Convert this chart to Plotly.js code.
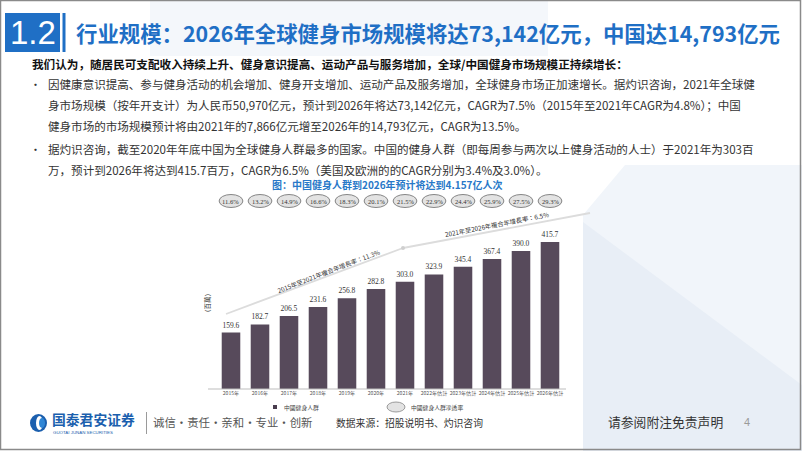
<!DOCTYPE html>
<html>
<head>
<meta charset="utf-8">
<script src="https://cdn.plot.ly/plotly-3.0.1.min.js"></script>
<style>html,body{margin:0;padding:0;background:#fff;}#chart{width:802px;height:451px;}</style>
</head>
<body>
<div id="chart"></div>
<script>
// ---- data ----
const years = ["2015年","2016年","2017年","2018年","2019年","2020年","2021年","2022年估計","2023年估計","2024年估計","2025年估計","2026年估計"];
const population = [159.6, 182.7, 206.5, 231.6, 256.8, 282.8, 303.0, 323.9, 345.4, 367.4, 390.0, 415.7];
const penetration = ["11.6%","13.2%","14.9%","16.6%","18.3%","20.1%","21.5%","22.9%","24.4%","25.9%","27.5%","29.3%"];
const cagrLabels = ["2015年至2021年複合年增長率：11.3%", "2021年至2026年複合年增長率：6.5%"];
const legendNames = ["中國健身人群", "中國健身人群滲透率"];
const yUnit = "（百萬）";

// ---- page helpers (pixel -> paper) ----
const W = 802, H = 451;
const X = p => p / W;
const Y = p => 1 - p / H;

const CJK = '"Noto Sans CJK SC", "Noto Sans", sans-serif';
const CJKTC = '"Noto Sans CJK TC", "Noto Sans", sans-serif';
const SERIF = '"Liberation Serif", "DejaVu Serif", serif';
const BLUE = '#1f6fc5';

const shapes = [];
const ann = [];

// background tint
shapes.push({type:'path', xref:'paper', yref:'paper', layer:'below',
  path:`M ${X(583)} ${Y(215)} L ${X(625)} ${Y(165)} L ${X(802)} ${Y(165)} L ${X(802)} ${Y(451)} L ${X(583)} ${Y(451)} Z`,
  fillcolor:'#f1f5fa', line:{width:0}});
shapes.push({type:'path', xref:'paper', yref:'paper', layer:'below',
  path:`M ${X(583)} ${Y(222)} L ${X(802)} ${Y(385)} L ${X(802)} ${Y(451)} L ${X(583)} ${Y(451)} Z`,
  fillcolor:'#e8eef6', line:{width:0}});
shapes.push({type:'path', xref:'paper', yref:'paper', layer:'below',
  path:`M ${X(150)} ${Y(0)} L ${X(548)} ${Y(0)} L ${X(548)} ${Y(56)} L ${X(150)} ${Y(56)} Z`,
  fillcolor:'#f4f7fb', line:{width:0}});

// slide border
shapes.push({type:'rect', xref:'paper', yref:'paper', x0:X(0.5), x1:X(800.5), y0:Y(449.5), y1:Y(0.5),
  line:{color:'#8a8a8a', width:1.5}, fillcolor:'rgba(0,0,0,0)'});

// header
shapes.push({type:'rect', xref:'paper', yref:'paper', x0:X(5), x1:X(60), y0:Y(52), y1:Y(13), fillcolor:BLUE, line:{width:0}});
shapes.push({type:'rect', xref:'paper', yref:'paper', x0:X(62.5), x1:X(65.5), y0:Y(52), y1:Y(13), fillcolor:BLUE, line:{width:0}});
ann.push({xref:'paper', yref:'paper', x:X(32.5), y:Y(33), text:'1.2', showarrow:false, xanchor:'center', yanchor:'middle',
  font:{family:'"Liberation Sans", Arial, sans-serif', size:33, color:'#ffffff'}});
ann.push({xref:'paper', yref:'paper', x:X(74), y:Y(33), text:'<b>行业规模：2026年全球健身市场规模将达73,142亿元，中国达14,793亿元</b>', showarrow:false,
  xanchor:'left', yanchor:'middle', font:{family:CJK, size:21.4, color:BLUE}});

// body text
ann.push({xref:'paper', yref:'paper', x:X(30), y:Y(64), text:'<b>我们认为，随居民可支配收入持续上升、健身意识提高、运动产品与服务增加，全球/中国健身市场规模正持续增长：</b>', showarrow:false,
  xanchor:'left', yanchor:'middle', font:{family:CJK, size:11.6, color:'#111'}});
const bodyLines = [
  [84, '因健康意识提高、参与健身活动的机会增加、健身开支增加、运动产品及服务增加，全球健身市场正加速增长。据灼识咨询，2021年全球健', true],
  [105, '身市场规模（按年开支计）为人民币50,970亿元，预计到2026年将达73,142亿元，CAGR为7.5%（2015年至2021年CAGR为4.8%）；中国', false],
  [126, '健身市场的市场规模预计将由2021年的7,866亿元增至2026年的14,793亿元，CAGR为13.5%。', false],
  [149, '据灼识咨询，截至2020年年底中国为全球健身人群最多的国家。中国的健身人群（即每周参与两次以上健身活动的人士）于2021年为303百', true],
  [170, '万，预计到2026年将达到415.7百万，CAGR为6.5%（美国及欧洲的的CAGR分别为3.4%及3.0%）。', false]
];
bodyLines.forEach(([py, t, bullet]) => {
  ann.push({xref:'paper', yref:'paper', x:X(46), y:Y(py), text:t, showarrow:false, xanchor:'left', yanchor:'middle',
    font:{family:CJK, size:11.55, color:'#333'}});
  if (bullet) ann.push({xref:'paper', yref:'paper', x:X(35), y:Y(py), text:'•', showarrow:false, xanchor:'center', yanchor:'middle',
    font:{family:CJK, size:11, color:'#333'}});
});

// chart image white area
shapes.push({type:'rect', xref:'paper', yref:'paper', layer:'below', x0:X(197), x1:X(583), y0:Y(413), y1:Y(193), fillcolor:'#ffffff', line:{width:0}});

// chart title
ann.push({xref:'paper', yref:'paper', x:X(387), y:Y(185), text:'<b>图：中国健身人群到2026年预计将达到4.157亿人次</b>', showarrow:false,
  xanchor:'center', yanchor:'middle', font:{family:CJK, size:10, color:'#2878c8'}});

// penetration ellipses (per category)
years.forEach((yr, i) => {
  shapes.push({type:'circle', xref:'x', yref:'paper', x0:i-0.41, x1:i+0.41, y0:Y(207.5), y1:Y(194.5),
    fillcolor:'#e3e3e3', line:{color:'#6a6a6a', width:0.8}});
  ann.push({xref:'x', yref:'paper', x:yr, y:Y(201), text:penetration[i], showarrow:false, xanchor:'center', yanchor:'middle',
    font:{family:SERIF, size:6.5, color:'#333'}});
});

// CAGR lines
shapes.push({type:'line', xref:'paper', yref:'paper', x0:X(226), y0:Y(314), x1:X(403), y1:Y(248), line:{color:'#dcdcdc', width:1.8}});
shapes.push({type:'line', xref:'paper', yref:'paper', x0:X(403), y0:Y(248), x1:X(590), y1:Y(213), line:{color:'#dcdcdc', width:1.8}});
shapes.push({type:'circle', xref:'paper', yref:'paper', x0:X(401), x1:X(405), y0:Y(250), y1:Y(246), fillcolor:'#cfcfcf', line:{width:0}});
ann.push({xref:'paper', yref:'paper', x:X(328), y:Y(271), text:cagrLabels[0], showarrow:false, textangle:-21,
  xanchor:'center', yanchor:'middle', font:{family:CJKTC, size:6.3, color:'#333'}});
ann.push({xref:'paper', yref:'paper', x:X(497), y:Y(224), text:cagrLabels[1], showarrow:false, textangle:-11,
  xanchor:'center', yanchor:'middle', font:{family:CJKTC, size:6.3, color:'#333'}});

// y unit label
ann.push({xref:'paper', yref:'paper', x:X(207), y:Y(303), text:yUnit, showarrow:false, textangle:-90,
  xanchor:'center', yanchor:'middle', font:{family:CJKTC, size:6.5, color:'#333'}});

// baseline
shapes.push({type:'line', xref:'paper', yref:'paper', x0:X(208), x1:X(566), y0:Y(389), y1:Y(389), line:{color:'#bdbdbd', width:1}});

// legend
shapes.push({type:'rect', xref:'paper', yref:'paper', x0:X(273), x1:X(277), y0:Y(409), y1:Y(405), fillcolor:'#4a3d4e', line:{width:0}});
ann.push({xref:'paper', yref:'paper', x:X(282), y:Y(407), text:legendNames[0], showarrow:false, xanchor:'left', yanchor:'middle',
  font:{family:CJKTC, size:5.8, color:'#444'}});
shapes.push({type:'circle', xref:'paper', yref:'paper', x0:X(387), x1:X(405), y0:Y(412), y1:Y(402), fillcolor:'#e3e3e3', line:{color:'#777', width:0.7}});
ann.push({xref:'paper', yref:'paper', x:X(409), y:Y(407), text:legendNames[1], showarrow:false, xanchor:'left', yanchor:'middle',
  font:{family:CJKTC, size:5.8, color:'#444'}});

// footer
shapes.push({type:'circle', xref:'paper', yref:'paper', x0:X(30), x1:X(47), y0:Y(432), y1:Y(414), fillcolor:'#1b5fae', line:{width:0}});
shapes.push({type:'circle', xref:'paper', yref:'paper', x0:X(36), x1:X(43), y0:Y(430), y1:Y(416), fillcolor:'#ffffff', line:{width:0}});
shapes.push({type:'circle', xref:'paper', yref:'paper', x0:X(39), x1:X(45), y0:Y(428), y1:Y(418), fillcolor:'#2f86d6', line:{width:0}});
ann.push({xref:'paper', yref:'paper', x:X(50), y:Y(419), text:'<b>国泰君安证券</b>', showarrow:false, xanchor:'left', yanchor:'middle',
  font:{family:CJK, size:13.8, color:'#1b5fae'}});
ann.push({xref:'paper', yref:'paper', x:X(51), y:Y(432.5), text:'GUOTAI JUNAN SECURITIES', showarrow:false, xanchor:'left', yanchor:'middle',
  font:{family:'"Liberation Sans", sans-serif', size:4.4, color:'#1b5fae'}});
shapes.push({type:'line', xref:'paper', yref:'paper', x0:X(146.5), x1:X(146.5), y0:Y(434), y1:Y(412), line:{color:'#9a9a9a', width:1}});
ann.push({xref:'paper', yref:'paper', x:X(151), y:Y(422), text:'诚信·责任·亲和·专业·创新', showarrow:false, xanchor:'left', yanchor:'middle',
  font:{family:CJK, size:11.4, color:'#555'}});
ann.push({xref:'paper', yref:'paper', x:X(334), y:Y(423), text:'数据来源：招股说明书、灼识咨询', showarrow:false, xanchor:'left', yanchor:'middle',
  font:{family:CJK, size:9.8, color:'#333'}});
ann.push({xref:'paper', yref:'paper', x:X(606), y:Y(421), text:'请参阅附注免责声明', showarrow:false, xanchor:'left', yanchor:'middle',
  font:{family:CJK, size:12.8, color:'#333'}});
ann.push({xref:'paper', yref:'paper', x:X(747), y:Y(422), text:'4', showarrow:false, xanchor:'center', yanchor:'middle',
  font:{family:'"Liberation Sans", sans-serif', size:11, color:'#9a9a9a'}});

const trace = {
  type:'bar', x:years, y:population, width:0.64,
  marker:{color:'#574a5b', line:{width:0}},
  text:population.map(v => v.toFixed(1)), textposition:'outside', cliponaxis:false,
  textfont:{family:SERIF, size:7.5, color:'#333'}, hoverinfo:'skip'
};

const layout = {
  width:W, height:H, margin:{l:0, r:0, t:0, b:0, pad:0},
  paper_bgcolor:'#ffffff', plot_bgcolor:'rgba(0,0,0,0)', showlegend:false,
  xaxis:{type:'category', domain:[X(216.5), X(564.5)], range:[-0.5, 11.5], showline:false, showgrid:false, zeroline:false,
    ticks:'', tickfont:{family:CJKTC, size:5.1, color:'#555'}, fixedrange:true, tickangle:0},
  yaxis:{domain:[Y(389), Y(195)], range:[0, (389-195)/((389-242)/415.7)], visible:false, fixedrange:true},
  shapes:shapes, annotations:ann, bargap:0.36
};

Plotly.newPlot('chart', [trace], layout, {displayModeBar:false, staticPlot:true});
</script>
</body>
</html>
